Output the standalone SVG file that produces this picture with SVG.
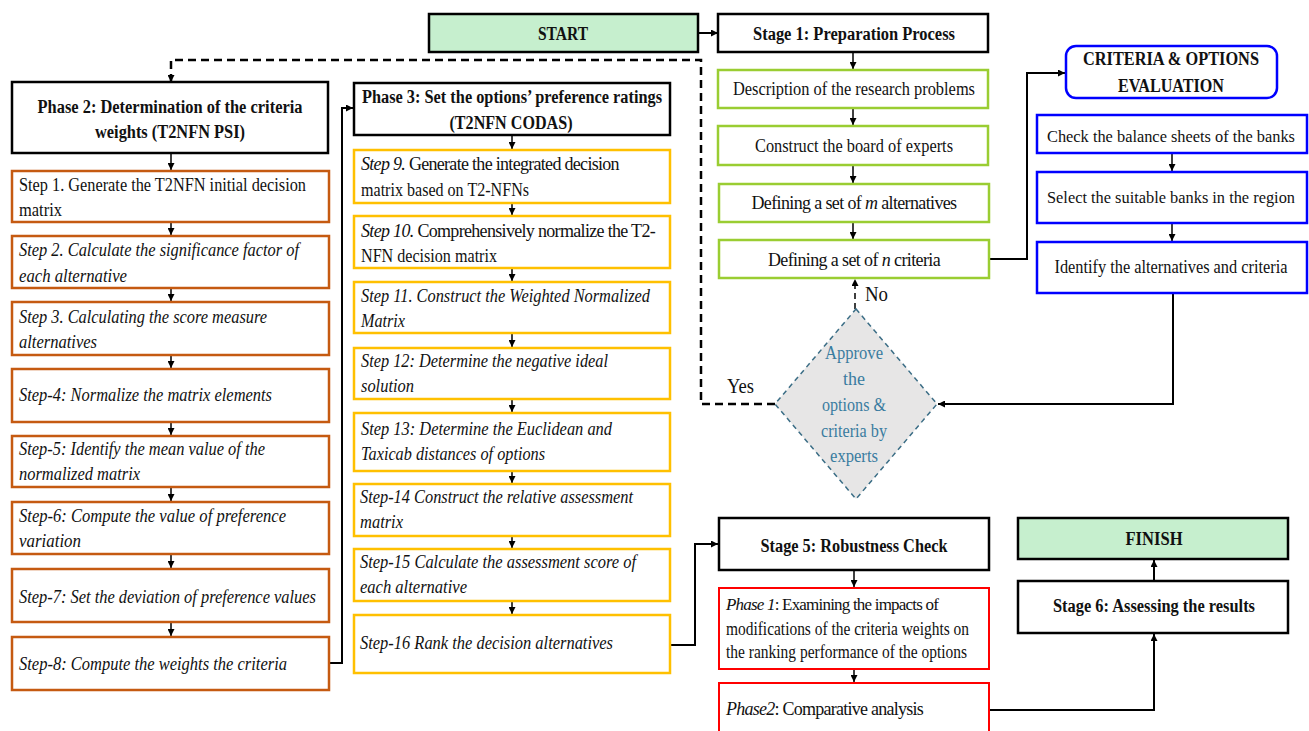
<svg xmlns="http://www.w3.org/2000/svg" width="1309" height="731" viewBox="0 0 1309 731">
<style>
.t{font-family:"Liberation Serif","Times New Roman",serif;font-size:18px;fill:#111}
.b{font-weight:bold}
.i{font-style:italic}
.c{text-anchor:middle}
.hdr{fill:#fff;stroke:#000;stroke-width:2.5}
.org{fill:#fff;stroke:#c55a11;stroke-width:2.5}
.yel{fill:#fff;stroke:#ffc000;stroke-width:2.5}
.grn{fill:#fff;stroke:#9acd32;stroke-width:2.5}
.blu{fill:#fff;stroke:#0000ff;stroke-width:2.5}
.red{fill:#fff;stroke:#ff0000;stroke-width:2}
.term{fill:#c6efce;stroke:#000;stroke-width:2.5}
.dia{fill:#e7e6e6;stroke:#3c6e86;stroke-width:1.5;stroke-dasharray:5 4}
.dt{fill:#3a7ca0}
.conn{fill:none;stroke:#000;stroke-width:2}
.short{fill:none;stroke:#000;stroke-width:1.5}
.dash{fill:none;stroke:#000;stroke-width:2.5;stroke-dasharray:8 5}
</style>
<defs>
<marker id="ah" viewBox="0 0 10 10" refX="10" refY="5" markerWidth="7" markerHeight="7" markerUnits="userSpaceOnUse" orient="auto"><path d="M0,0 L10,5 L0,10 z" fill="#000"/></marker>
</defs>

<g id="connectors">
<path class="conn" d="M698,33 H718" marker-end="url(#ah)"/>
<path class="dash" d="M775,404 H701 V60 H171 V82" marker-end="url(#ah)"/>
<path class="short" d="M171,153 V170" marker-end="url(#ah)"/>
<path class="short" d="M171,222 V235" marker-end="url(#ah)"/>
<path class="short" d="M171,288 V301" marker-end="url(#ah)"/>
<path class="short" d="M171,355 V368" marker-end="url(#ah)"/>
<path class="short" d="M171,422 V435" marker-end="url(#ah)"/>
<path class="short" d="M171,487 V501" marker-end="url(#ah)"/>
<path class="short" d="M171,554 V568" marker-end="url(#ah)"/>
<path class="short" d="M171,622 V636" marker-end="url(#ah)"/>
<path class="conn" d="M329,663 H342 V108 H353" marker-end="url(#ah)"/>
<path class="short" d="M512,135 V149" marker-end="url(#ah)"/>
<path class="short" d="M512,203 V215" marker-end="url(#ah)"/>
<path class="short" d="M512,268 V281" marker-end="url(#ah)"/>
<path class="short" d="M512,333 V347" marker-end="url(#ah)"/>
<path class="short" d="M512,399 V412" marker-end="url(#ah)"/>
<path class="short" d="M512,471 V483" marker-end="url(#ah)"/>
<path class="short" d="M512,536 V548" marker-end="url(#ah)"/>
<path class="short" d="M512,601 V614" marker-end="url(#ah)"/>
<path class="conn" d="M670,645 H695 V544 H718" marker-end="url(#ah)"/>
<path class="short" d="M853,52 V69" marker-end="url(#ah)"/>
<path class="short" d="M853,108 V125" marker-end="url(#ah)"/>
<path class="short" d="M853,165 V183" marker-end="url(#ah)"/>
<path class="short" d="M853,222 V239" marker-end="url(#ah)"/>
<path class="conn" d="M989,259 H1027 V73 H1065" marker-end="url(#ah)"/>
<path class="short" d="M1172,153 V171" marker-end="url(#ah)"/>
<path class="short" d="M1172,223 V241" marker-end="url(#ah)"/>
<path class="conn" d="M1173,293 V404 H938" marker-end="url(#ah)"/>
<path class="short" d="M855,309 V279" stroke-dasharray="6 4" marker-end="url(#ah)"/>
<path class="short" d="M854,570 V587" marker-end="url(#ah)"/>
<path class="short" d="M854,669 V682" marker-end="url(#ah)"/>
<path class="conn" d="M989,710 H1154 V634" marker-end="url(#ah)"/>
<path class="conn" d="M1154,581 V560" marker-end="url(#ah)"/>
</g>

<g id="start"><rect class="term" x="429" y="14" width="269" height="38"/><text class="t b c" x="563" y="40" textLength="50" lengthAdjust="spacingAndGlyphs">START</text></g>

<g id="phase2"><rect class="hdr" x="12" y="82" width="316" height="71"/>
<text class="t b c" x="170" y="113" textLength="265" lengthAdjust="spacingAndGlyphs">Phase 2: Determination of the criteria</text>
<text class="t b c" x="170" y="138" textLength="150" lengthAdjust="spacingAndGlyphs">weights (T2NFN PSI)</text></g>

<g id="step1"><rect class="org" x="12" y="171" width="317" height="51"/>
<text class="t" x="19" y="191" textLength="287" lengthAdjust="spacingAndGlyphs">Step 1. Generate the T2NFN initial decision</text>
<text class="t" x="19" y="216" textLength="43" lengthAdjust="spacingAndGlyphs">matrix</text></g>
<g id="step2"><rect class="org" x="12" y="236" width="317" height="52"/>
<text class="t i" x="19" y="256" textLength="280" lengthAdjust="spacingAndGlyphs">Step 2. Calculate the significance factor of</text>
<text class="t i" x="19" y="282" textLength="108" lengthAdjust="spacingAndGlyphs">each alternative</text></g>
<g id="step3"><rect class="org" x="12" y="302" width="317" height="53"/>
<text class="t i" x="19" y="323" textLength="248" lengthAdjust="spacingAndGlyphs">Step 3. Calculating the score measure</text>
<text class="t i" x="19" y="348" textLength="78" lengthAdjust="spacingAndGlyphs">alternatives</text></g>
<g id="step4"><rect class="org" x="12" y="369" width="317" height="53"/>
<text class="t i" x="19" y="401" textLength="253" lengthAdjust="spacingAndGlyphs">Step-4: Normalize the matrix elements</text></g>
<g id="step5"><rect class="org" x="12" y="436" width="317" height="51"/>
<text class="t i" x="19" y="455" textLength="246" lengthAdjust="spacingAndGlyphs">Step-5: Identify the mean value of the</text>
<text class="t i" x="19" y="480" textLength="121" lengthAdjust="spacingAndGlyphs">normalized matrix</text></g>
<g id="step6"><rect class="org" x="12" y="502" width="317" height="52"/>
<text class="t i" x="19" y="522" textLength="267" lengthAdjust="spacingAndGlyphs">Step-6: Compute the value of preference</text>
<text class="t i" x="19" y="547" textLength="62" lengthAdjust="spacingAndGlyphs">variation</text></g>
<g id="step7"><rect class="org" x="12" y="569" width="317" height="53"/>
<text class="t i" x="19" y="603" textLength="297" lengthAdjust="spacingAndGlyphs">Step-7: Set the deviation of preference values</text></g>
<g id="step8"><rect class="org" x="12" y="637" width="317" height="53"/>
<text class="t i" x="19" y="670" textLength="268" lengthAdjust="spacingAndGlyphs">Step-8: Compute the weights the criteria</text></g>

<g id="phase3"><rect class="hdr" x="354" y="83" width="316" height="52"/>
<text class="t b c" x="512" y="103" textLength="300" lengthAdjust="spacingAndGlyphs">Phase 3: Set the options’ preference ratings</text>
<text class="t b c" x="511" y="129" textLength="123" lengthAdjust="spacingAndGlyphs">(T2NFN CODAS)</text></g>

<g id="step9"><rect class="yel" x="354" y="150" width="316" height="53"/>
<text class="t" x="361" y="170" style="letter-spacing:-0.7px"><tspan class="i">Step 9.</tspan> Generate the integrated decision</text>
<text class="t" x="361" y="196" textLength="168" lengthAdjust="spacingAndGlyphs">matrix based on T2-NFNs</text></g>
<g id="step10"><rect class="yel" x="354" y="216" width="316" height="52"/>
<text class="t" x="361" y="237" style="letter-spacing:-0.68px"><tspan class="i">Step 10.</tspan> Comprehensively normalize the T2-</text>
<text class="t" x="361" y="262" textLength="136" lengthAdjust="spacingAndGlyphs">NFN decision matrix</text></g>
<g id="step11"><rect class="yel" x="354" y="282" width="316" height="51"/>
<text class="t i" x="361" y="302" textLength="289" lengthAdjust="spacingAndGlyphs">Step 11. Construct the Weighted Normalized</text>
<text class="t i" x="361" y="327" textLength="44" lengthAdjust="spacingAndGlyphs">Matrix</text></g>
<g id="step12"><rect class="yel" x="354" y="348" width="316" height="51"/>
<text class="t i" x="361" y="367" textLength="247" lengthAdjust="spacingAndGlyphs">Step 12: Determine the negative ideal</text>
<text class="t i" x="361" y="392" textLength="53" lengthAdjust="spacingAndGlyphs">solution</text></g>
<g id="step13"><rect class="yel" x="354" y="413" width="316" height="58"/>
<text class="t i" x="361" y="435" textLength="251" lengthAdjust="spacingAndGlyphs">Step 13: Determine the Euclidean and</text>
<text class="t i" x="361" y="460" textLength="184" lengthAdjust="spacingAndGlyphs">Taxicab distances of options</text></g>
<g id="step14"><rect class="yel" x="354" y="484" width="316" height="52"/>
<text class="t i" x="360" y="503" textLength="273" lengthAdjust="spacingAndGlyphs">Step-14 Construct the relative assessment</text>
<text class="t i" x="360" y="528" textLength="43" lengthAdjust="spacingAndGlyphs">matrix</text></g>
<g id="step15"><rect class="yel" x="354" y="549" width="316" height="52"/>
<text class="t i" x="360" y="568" textLength="276" lengthAdjust="spacingAndGlyphs">Step-15 Calculate the assessment score of</text>
<text class="t i" x="360" y="593" textLength="107" lengthAdjust="spacingAndGlyphs">each alternative</text></g>
<g id="step16"><rect class="yel" x="354" y="615" width="316" height="58"/>
<text class="t i" x="360" y="649" textLength="253" lengthAdjust="spacingAndGlyphs">Step-16 Rank the decision alternatives</text></g>

<g id="stage1"><rect class="hdr" x="718" y="14" width="270" height="38"/>
<text class="t b c" x="854" y="40" textLength="202" lengthAdjust="spacingAndGlyphs">Stage 1: Preparation Process</text></g>
<g id="describe"><rect class="grn" x="718" y="70" width="270" height="38"/>
<text class="t c" x="854" y="95" textLength="242" lengthAdjust="spacingAndGlyphs">Description of the research problems</text></g>
<g id="board"><rect class="grn" x="718" y="126" width="270" height="39"/>
<text class="t c" x="854" y="152" textLength="198" lengthAdjust="spacingAndGlyphs">Construct the board of experts</text></g>
<g id="alts"><rect class="grn" x="719" y="184" width="270" height="38"/>
<text class="t c" x="854" y="209" style="letter-spacing:-0.64px">Defining a set of <tspan class="i">m</tspan> alternatives</text></g>
<g id="crit"><rect class="grn" x="719" y="240" width="270" height="38"/>
<text class="t c" x="854" y="266" style="letter-spacing:-0.62px">Defining a set of <tspan class="i">n</tspan> criteria</text></g>

<g id="decision"><polygon class="dia" points="856,309 937,404 856,499 775,404"/>
<text class="t c dt" x="854" y="359" textLength="58" lengthAdjust="spacingAndGlyphs">Approve</text>
<text class="t c dt" x="854" y="385">the</text>
<text class="t c dt" x="854" y="411" textLength="64" lengthAdjust="spacingAndGlyphs">options &amp;</text>
<text class="t c dt" x="854" y="437" textLength="66" lengthAdjust="spacingAndGlyphs">criteria by</text>
<text class="t c dt" x="854" y="462" textLength="48" lengthAdjust="spacingAndGlyphs">experts</text></g>
<text class="t" x="865" y="301" style="font-size:20px" textLength="23" lengthAdjust="spacingAndGlyphs">No</text>
<text class="t" x="727" y="393" style="font-size:20px" textLength="27" lengthAdjust="spacingAndGlyphs">Yes</text>

<g id="evaluation"><rect class="blu" x="1066" y="46" width="211" height="52" rx="10"/>
<text class="t b c" x="1171" y="65" textLength="176" lengthAdjust="spacingAndGlyphs">CRITERIA &amp; OPTIONS</text>
<text class="t b c" x="1171" y="92" textLength="106" lengthAdjust="spacingAndGlyphs">EVALUATION</text></g>
<g id="check"><rect class="blu" x="1037" y="115" width="270" height="38"/>
<text class="t c" x="1171" y="142" style="font-size:16.4px" textLength="248" lengthAdjust="spacingAndGlyphs">Check the balance sheets of the banks</text></g>
<g id="select"><rect class="blu" x="1037" y="172" width="270" height="51"/>
<text class="t c" x="1171" y="203" style="font-size:16.4px" textLength="248" lengthAdjust="spacingAndGlyphs">Select the suitable banks in the region</text></g>
<g id="identify"><rect class="blu" x="1037" y="242" width="270" height="51"/>
<text class="t c" x="1171" y="273" textLength="233" lengthAdjust="spacingAndGlyphs">Identify the alternatives and criteria</text></g>

<g id="stage5"><rect class="hdr" x="719" y="518" width="270" height="52"/>
<text class="t b c" x="854" y="552" textLength="187" lengthAdjust="spacingAndGlyphs">Stage 5: Robustness Check</text></g>
<g id="phase1"><rect class="red" x="719" y="588" width="270" height="81"/>
<text class="t" x="726" y="610" style="font-size:17px;letter-spacing:-0.8px"><tspan class="i">Phase 1</tspan>: Examining the impacts of</text>
<text class="t" x="726" y="635" textLength="243" lengthAdjust="spacingAndGlyphs">modifications of the criteria weights on</text>
<text class="t" x="726" y="658" textLength="241" lengthAdjust="spacingAndGlyphs">the ranking performance of the options</text></g>
<g id="phase2b"><rect class="red" x="719" y="683" width="270" height="60"/>
<text class="t" x="726" y="715" style="letter-spacing:-0.75px"><tspan class="i">Phase2</tspan>: Comparative analysis</text></g>

<g id="finish"><rect class="term" x="1018" y="518" width="270" height="41"/>
<text class="t b c" x="1154" y="545" textLength="57" lengthAdjust="spacingAndGlyphs">FINISH</text></g>
<g id="stage6"><rect class="hdr" x="1018" y="581" width="270" height="52"/>
<text class="t b c" x="1154" y="612" textLength="202" lengthAdjust="spacingAndGlyphs">Stage 6: Assessing the results</text></g>
</svg>
